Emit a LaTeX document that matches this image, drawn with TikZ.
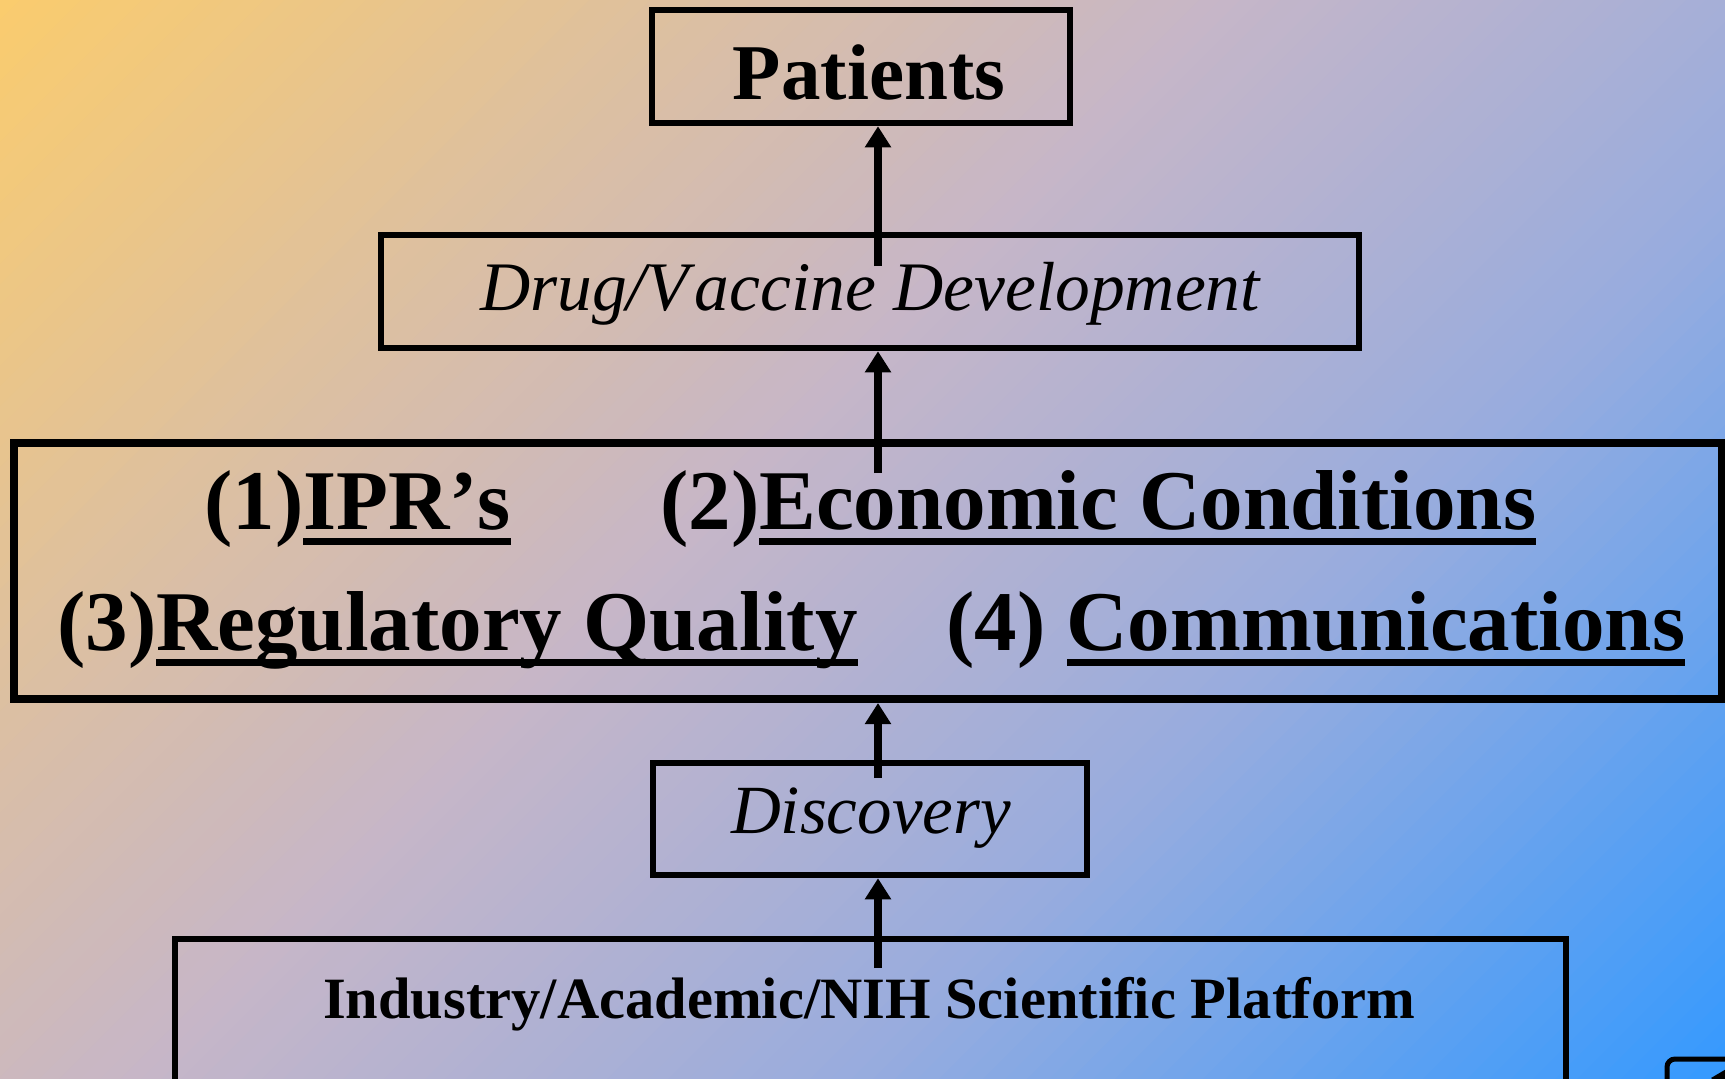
\documentclass[tikz,border=0pt]{standalone}
\usepackage{fontspec}
\setmainfont{Liberation Serif}[Kerning=Off]
\usetikzlibrary{arrows.meta}
\definecolor{cO}{RGB}{250,204,110}
\definecolor{cM}{RGB}{198,182,200}
\definecolor{cL}{RGB}{152,172,222}
\definecolor{cB}{RGB}{51,153,255}
\newcommand\gband[5]{%
  \foreach \k in {1,...,#3}{%
    \pgfmathsetmacro\gst{(#2-#1)/#3}%
    \pgfmathsetmacro\gsa{#1+\gst*(\k-1)}%
    \pgfmathsetmacro\gsb{#1+\gst*\k+1.5}%
    \pgfmathtruncatemacro\gpp{100*(\k-0.5)/#3}%
    \colorlet{bandc}{#5!\gpp!#4}%
    \fill[bandc] (\gsa,0) -- (\gsb,0) -- (\gsb-1200,1200) -- (\gsa-1200,1200) -- cycle;
  }}
\newcommand\ulin[1]{\setbox0=\hbox{#1}\rlap{\rule[-15.5pt]{\wd0}{7pt}}\box0}
\begin{document}
\begin{tikzpicture}[x=1pt,y=-1pt,
  box/.style={draw, line width=6.5pt, inner sep=0pt},
  txt/.style={inner sep=0pt, anchor=base},
  arr/.style={line width=8pt, -{Triangle[width=25pt,length=21pt]}}]
\useasboundingbox (0,0) rectangle (1725,1079);
\begin{scope}
\clip (0,0) rectangle (1725,1079);
\gband{0}{1220}{60}{cO}{cM}
\gband{1220}{1930}{35}{cM}{cL}
\gband{1930}{2810}{40}{cL}{cB}
\end{scope}
% boxes
\node[box, minimum width=418pt, minimum height=113pt] (pat) at (861,66.5) {};
\node[box, minimum width=978pt, minimum height=113pt] (drug) at (870,291.5) {};
\node[box, line width=8pt, minimum width=1708pt, minimum height=256pt] (main) at (868,571) {};
\node[box, minimum width=434pt, minimum height=112pt] (disc) at (870,819) {};
\node[box, minimum width=1391pt, minimum height=201pt] (plat) at (870.5,1039.5) {};
% texts
\node[txt, font=\bfseries\fontsize{79}{90}\selectfont] (tpat) at (869,99) {Patients};
\node[txt, font=\itshape\fontsize{69.5}{80}\selectfont] (tdrug) at (870,310) {Drug/V\kern6pt accine Development};
\node[txt, anchor=base west, font=\bfseries\fontsize{85}{95}\selectfont] (t1) at (204,529) {(1)\ulin{IPR’s}};
\node[txt, anchor=base west, font=\bfseries\fontsize{85}{95}\selectfont] (t2) at (660,529) {(2)\ulin{Economic Conditions}};
\node[txt, anchor=base west, font=\bfseries\fontsize{85}{95}\selectfont] (t3) at (57,650) {(3)\ulin{Regulatory Quality}};
\node[txt, anchor=base west, font=\bfseries\fontsize{85}{95}\selectfont] (t4) at (946,650) {(4) \ulin{Communications}};
\node[txt, font=\itshape\fontsize{69}{80}\selectfont] (tdisc) at (871,833) {Discovery};
\node[txt, font=\bfseries\fontsize{58.5}{70}\selectfont] (tplat) at (869,1018) {Industry/Academic/NIH Scientific Platform};
% arrows
\coordinate (s1) at (878,266);
\draw[arr] (s1) -- (s1 |- pat.south);
\coordinate (s2) at (878,473);
\draw[arr] (s2) -- (s2 |- drug.south);
\coordinate (s3) at (878,778);
\draw[arr] (s3) -- (s3 |- main.south);
\coordinate (s4) at (878,968);
\draw[arr] (s4) -- (s4 |- disc.south);
% corner button
\draw[line width=5pt, rounded corners=8pt] (1667,1059) rectangle (1780,1130);
\fill (1711,1078) -- (1728,1068) -- (1728,1090) -- cycle;
\end{tikzpicture}
\end{document}
